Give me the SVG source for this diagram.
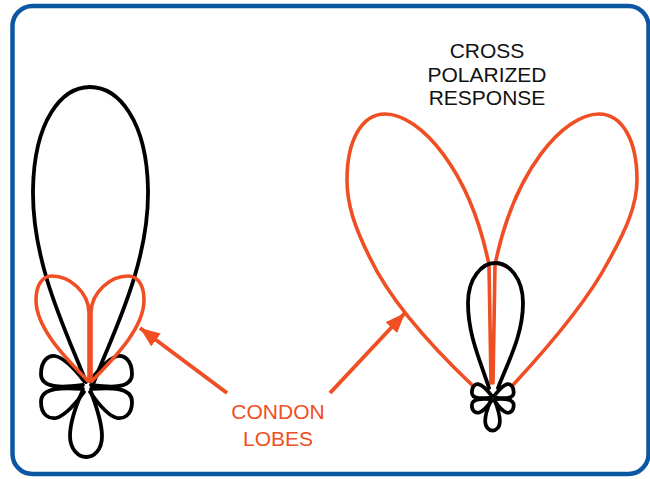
<svg xmlns="http://www.w3.org/2000/svg" xmlns:xlink="http://www.w3.org/1999/xlink" width="650" height="479" viewBox="0 0 650 479">
  <style>
    .frame { fill: #ffffff; stroke: #0b57a3; stroke-width: 4.5; }
    .co { fill: none; stroke: #000000; stroke-width: 3.8; stroke-linecap: round; stroke-linejoin: round; }
    .cx { fill: none; stroke: #f04e23; stroke-width: 3.6; stroke-linecap: round; stroke-linejoin: round; }
    .arrow { fill: none; stroke: #f04e23; stroke-width: 4; }
    .label { font-family: "Liberation Sans", Arial, Helvetica, sans-serif; font-size: 21px; text-anchor: middle; }
  </style>
  <defs>
    <!-- side lobes of a co-polar pattern, drawn about its phase centre at (0,0) -->
    <g id="side-lobes">
      <path d="M -4,1 C -20,3 -46,6 -46,-10 C -46,-24 -38,-29 -32,-28 C -22,-26 -10,-12 -3,-3"/>
      <path d="M -4,5 C -20,4 -46,2 -46,18 C -46,32 -37,35 -31,34 C -22,32 -10,18 -3,8"/>
      <path d="M 4,1 C 20,3 45,6 45,-10 C 45,-24 37,-29 31,-28 C 21,-26 10,-12 3,-3"/>
      <path d="M 4,5 C 20,4 45,2 45,18 C 45,32 36,35 30,34 C 21,32 10,18 3,8"/>
      <path d="M -5,8 C -12,24 -17,40 -17,52 C -17,66 -8,73 -1,73 C 7,73 15,66 15,52 C 15,40 10,24 4,8"/>
    </g>
    <marker id="head" markerUnits="userSpaceOnUse" markerWidth="22" markerHeight="18" refX="20" refY="8" orient="auto">
      <path d="M 0,0 L 20,8 L 0,16 Z" fill="#f04e23"/>
    </marker>
  </defs>

  <rect class="frame" x="12.5" y="6" width="636" height="468" rx="20" ry="20"/>

  <!-- left: co-polar pattern with Condon lobes -->
  <g id="copolar-pattern">
    <path class="co" d="M 86,382 C 68,335 32,265 33,190 C 34,120 62,87 90,87 C 118,87 147,120 148,190 C 149,265 112,335 94,382"/>
    <use href="#side-lobes" xlink:href="#side-lobes" class="co" transform="translate(87,384)"/>
    <path class="cx" d="M 88,381 C 70,362 36,330 36,300 C 36,284 43,276 52,276 C 70,276 88,292 89,312 L 89,381"/>
    <path class="cx" d="M 92,381 C 110,362 144,330 144,300 C 144,284 137,276 128,276 C 110,276 92,292 91,312 L 91,381"/>
  </g>

  <!-- right: cross-polarized response -->
  <g id="crosspolar-pattern">
    <path class="cx" d="M 472,385 C 430,345 390,300 370,258 C 355,228 347,205 347,180 C 347,140 362,114 385,114 C 420,114 470,170 489,265 L 491,383"/>
    <path class="cx" d="M 513,385 C 550,345 588,300 608,262 C 626,230 637,205 637,180 C 637,140 622,114 599,114 C 564,114 514,170 495,265 L 493,383"/>
    <path class="co" d="M 489,388 C 480,360 468,335 468,303 C 468,278 482,263 495,263 C 509,263 523,278 523,303 C 523,335 508,362 498,388"/>
    <use href="#side-lobes" xlink:href="#side-lobes" class="co" style="stroke-width:8" transform="translate(493,397) scale(0.46)"/>
  </g>

  <g id="connectors">
    <line class="arrow" x1="227" y1="393" x2="140" y2="328" marker-end="url(#head)"/>
    <line class="arrow" x1="330" y1="393" x2="405" y2="313" marker-end="url(#head)"/>
  </g>

  <g id="condon-label">
    <text class="label" x="278" y="419" fill="#f04e23">CONDON</text>
    <text class="label" x="278" y="446" fill="#f04e23">LOBES</text>
  </g>

  <g id="cross-label">
    <text class="label" x="487" y="58" fill="#111111">CROSS</text>
    <text class="label" x="487" y="82" fill="#111111">POLARIZED</text>
    <text class="label" x="487" y="105" fill="#111111">RESPONSE</text>
  </g>
</svg>
